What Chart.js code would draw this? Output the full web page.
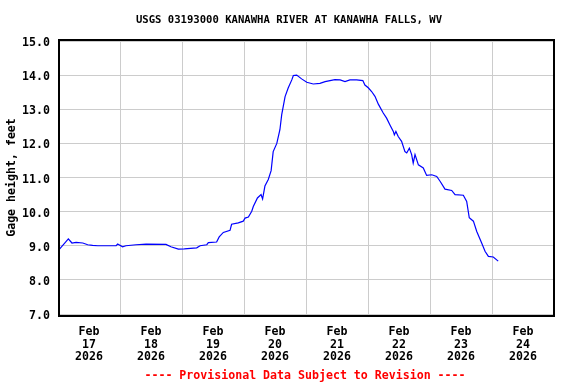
<!DOCTYPE html>
<html>
<head>
<meta charset="utf-8">
<script src="https://cdn.jsdelivr.net/npm/chart.js@4/dist/chart.umd.min.js"></script>
<style>
  html, body { margin: 0; padding: 0; background: #fff; }
  #wrap { width: 576px; height: 384px; }
</style>
</head>
<body>
<div id="wrap"><canvas id="gageChart" width="576" height="384"></canvas></div>
<script>
// hours since Feb 17 2026 00:00 and gage height (feet)
const hoursFromFeb17 = [0, 4, 5.4, 7, 9.6, 11.5, 13.4, 15.4, 22.5, 23.1, 25.0, 26.3, 30.2, 34.1, 41.8, 43.7,
  46.6, 48.9, 53.7, 55.0, 57.6, 58.2, 61.4, 62.4, 64.0, 66.6, 67.2, 69.8, 71.7, 72.4, 73.7, 75.0,
  75.6, 77.2, 78.6, 79.2, 80.1, 81.4, 82.5, 83.3, 84.7, 85.9, 86.6, 87.9, 89.1, 90.5, 91.1, 92.4,
  94.3, 96.3, 98.8, 101.4, 103.4, 105.3, 107.2, 109.2, 111.1, 113.0, 115.6, 118.0, 118.8, 120.1,
  121.4, 122.7, 124.0, 125.9, 127.2, 128.5, 129.8, 130.2, 130.8, 131.7, 133.0, 134.3, 135.0, 136.0,
  136.9, 137.5, 138.2, 139.5, 141.4, 142.7, 144.7, 146.6, 147.9, 149.8, 152.4, 153.7, 156.9, 158.2,
  159.2, 160.8, 162.1, 164.0, 165.3, 166.6, 168.5, 170.4];
const gageHeight = [8.85, 9.20, 9.08, 9.10, 9.08, 9.03, 9.01, 9.00, 9.00, 9.05, 8.97, 9.00, 9.03, 9.05, 9.04, 8.97,
  8.90, 8.91, 8.94, 9.00, 9.03, 9.09, 9.11, 9.26, 9.39, 9.45, 9.63, 9.67, 9.72, 9.81, 9.84, 10.01,
  10.15, 10.40, 10.50, 10.37, 10.75, 10.94, 11.20, 11.76, 12.00, 12.40, 12.84, 13.37, 13.62, 13.86, 13.99, 14.00,
  13.89, 13.79, 13.74, 13.76, 13.81, 13.84, 13.87, 13.86, 13.81, 13.86, 13.86, 13.84, 13.71, 13.63,
  13.52, 13.38, 13.15, 12.89, 12.74, 12.54, 12.35, 12.25, 12.35, 12.20, 12.06, 11.76, 11.72, 11.86,
  11.67, 11.42, 11.67, 11.37, 11.28, 11.06, 11.08, 11.03, 10.89, 10.66, 10.62, 10.50, 10.48, 10.30,
  9.82, 9.72, 9.42, 9.08, 8.84, 8.69, 8.67, 8.55];

const dayLabels = ['17', '18', '19', '20', '21', '22', '23', '24'];
const monthLabel = 'Feb';
const yearLabel = '2026';
const yMin = 7, yMax = 15;

const titleText = 'USGS 03193000 KANAWHA RIVER AT KANAWHA FALLS, WV';
const footerText = '---- Provisional Data Subject to Revision ----';

const MONO = "'DejaVu Sans Mono', 'Liberation Mono', monospace";

// frame around the plot plus title / footer text
const framePlugin = {
  id: 'framePlugin',
  afterDraw(chart) {
    const ctx = chart.ctx;
    const a = chart.chartArea;
    ctx.save();
    ctx.fillStyle = '#000';
    ctx.fillRect(a.left, a.top - 2, a.right + 1 - a.left, 2);
    ctx.fillRect(a.left, a.bottom + 1, a.right + 1 - a.left, 2);
    ctx.fillRect(a.left, a.top - 2, 2, a.bottom - a.top + 5);
    ctx.fillRect(a.right - 1, a.top - 2, 2, a.bottom - a.top + 5);

    ctx.textAlign = 'center';
    ctx.textBaseline = 'middle';
    ctx.font = 'bold 10.6px ' + MONO;
    ctx.fillText(titleText, 289, 20);
    ctx.fillStyle = '#ff0000';
    ctx.font = 'bold 11.6px ' + MONO;
    ctx.fillText(footerText, 305, 376);
    ctx.restore();
  }
};

const points = hoursFromFeb17.map((h, i) => ({ x: h, y: gageHeight[i] }));

new Chart(document.getElementById('gageChart'), {
  type: 'line',
  data: {
    datasets: [{
      data: points,
      borderColor: '#0000ff',
      borderWidth: 1.2,
      pointRadius: 0,
      tension: 0,
      fill: false
    }]
  },
  options: {
    responsive: false,
    animation: false,
    events: [],
    layout: { padding: { left: 0, top: 41, right: 22, bottom: 20 } },
    plugins: { legend: { display: false }, tooltip: { enabled: false } },
    scales: {
      x: {
        type: 'linear',
        min: 0,
        max: dayLabels.length * 24,
        afterBuildTicks: (scale) => {
          const t = [];
          for (let v = 0; v <= dayLabels.length * 24; v += 12) t.push({ value: v });
          scale.ticks = t;
        },
        afterFit: (scale) => { scale.height = 50; },
        border: { display: false },
        grid: {
          drawTicks: false,
          lineWidth: 1,
          color: (c) => (c.tick && c.tick.value % 24 === 0) ? '#cccccc' : 'rgba(0,0,0,0)'
        },
        ticks: {
          autoSkip: false,
          maxRotation: 0,
          padding: 11,
          color: '#000',
          font: { family: MONO, size: 11.6, weight: 'bold', lineHeight: 1.12 },
          callback: (v) => {
            if (v % 24 !== 12) return '';
            return [monthLabel, dayLabels[Math.floor(v / 24)], yearLabel];
          }
        }
      },
      y: {
        min: yMin,
        max: yMax,
        afterFit: (scale) => { scale.width = 58; },
        border: { display: false },
        grid: { drawTicks: false, color: '#cccccc', lineWidth: 1 },
        ticks: {
          stepSize: 1,
          padding: 8,
          labelOffset: 2,
          color: '#000',
          font: { family: MONO, size: 11.6, weight: 'bold' },
          callback: (v) => Number(v).toFixed(1)
        },
        title: {
          display: true,
          text: 'Gage height, feet',
          color: '#000',
          padding: { top: 5, bottom: 0 },
          font: { family: MONO, size: 11.6, weight: 'bold' }
        }
      }
    }
  },
  plugins: [framePlugin]
});
</script>
</body>
</html>
